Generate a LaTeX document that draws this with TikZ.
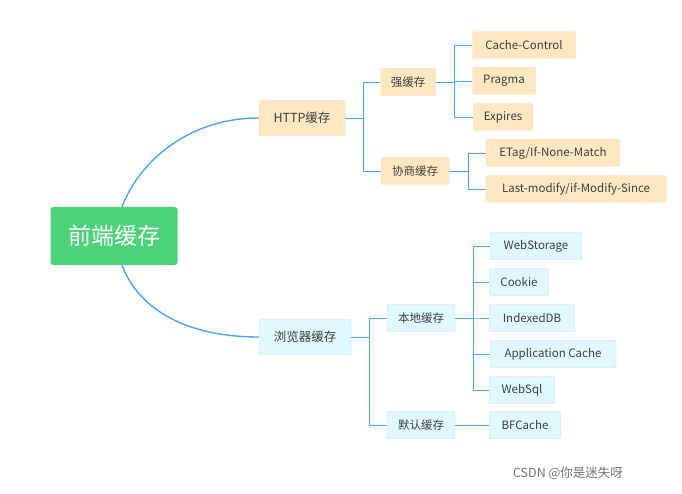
\documentclass[tikz,border=0pt]{standalone}
\usepackage{fontspec}
\setmainfont{Noto Sans CJK SC}
\begin{document}
\begin{tikzpicture}[x=1pt,y=-1pt,
  box/.style={rounded corners=2pt,inner sep=0pt,minimum height=27pt,font=\fontsize{11.5}{13}\selectfont,text=black!75},
  ob/.style={box,fill=orange!20!white!95!yellow,draw=orange!30},
  bb/.style={box,fill=blue!18!cyan!12!white,draw=blue!20},
  big/.style={minimum height=35pt,font=\fontsize{12.5}{14}\selectfont},
  ln/.style={draw=blue!50!cyan!70,line width=0.6pt},
  thick ln/.style={draw=blue!50!cyan!70,line width=1.4pt}]
\useasboundingbox (0,0) rectangle (682,494);
\node[rounded corners=3pt,fill=green!50!teal!70,minimum width=127pt,minimum height=58pt,text=white,font=\fontsize{23}{26}\selectfont] (root) at (114,236) {前端缓存};
\node[ob,big,minimum width=86pt] (http) at (302,118) {HTTP缓存};
\node[bb,big,minimum width=92pt] (br) at (305,337) {浏览器缓存};
\node[ob,minimum width=55pt] (qiang) at (408,82) {强缓存};
\node[ob,minimum width=68pt] (xie) at (415,171) {协商缓存};
\node[ob,minimum width=103pt] (cc) at (524,45) {Cache-Control};
\node[ob,minimum width=63pt] (pr) at (504,81) {Pragma};
\node[ob,minimum width=60pt] (ex) at (503,117) {Expires};
\node[ob,minimum width=134pt] (et) at (553,153) {ETag/If-None-Match};
\node[ob,minimum width=180pt] (lm) at (576,189) {Last-modify/if-Modify-Since};
\node[bb,minimum width=68pt] (bd) at (421,318) {本地缓存};
\node[bb,minimum width=68pt] (mr) at (421,425) {默认缓存};
\node[bb,minimum width=92pt] (ws) at (536,246) {WebStorage};
\node[bb,minimum width=59pt] (ck) at (519,282) {Cookie};
\node[bb,minimum width=85pt] (idb) at (532,318) {IndexedDB};
\node[bb,minimum width=126pt] (ac) at (553,354) {Application Cache};
\node[bb,minimum width=65pt] (wsql) at (522,390) {WebSql};
\node[bb,minimum width=71pt] (bf) at (525,425) {BFCache};
\node[text=black!55,font=\fontsize{12.5}{14}\selectfont] (wm) at (568,473) {CSDN @你是迷失呀};
\draw[thick ln] (root.north) ++(8,0) .. controls (140,160) and (190,118) .. (http.west);
\draw[thick ln] (root.south) ++(8,0) .. controls (140,312) and (190,337) .. (br.west);
\draw[ln] (http.east) -- ++(18,0) |- (qiang.west);
\draw[ln] (http.east) -- ++(18,0) |- (xie.west);
\draw[ln] (qiang.east) -- ++(19,0) |- (cc.west);
\draw[ln] (qiang.east) -- ++(19,0) |- (pr.west);
\draw[ln] (qiang.east) -- ++(19,0) |- (ex.west);
\draw[ln] (xie.east) -- ++(19,0) |- (et.west);
\draw[ln] (xie.east) -- ++(19,0) |- (lm.west);
\draw[ln] (br.east) -- ++(18,0) |- (bd.west);
\draw[ln] (br.east) -- ++(18,0) |- (mr.west);
\foreach \n in {ws,ck,idb,ac,wsql} \draw[ln] (bd.east) -- ++(18,0) |- (\n.west);
\draw[ln] (mr.east) -- (bf.west);
\end{tikzpicture}
\end{document}
